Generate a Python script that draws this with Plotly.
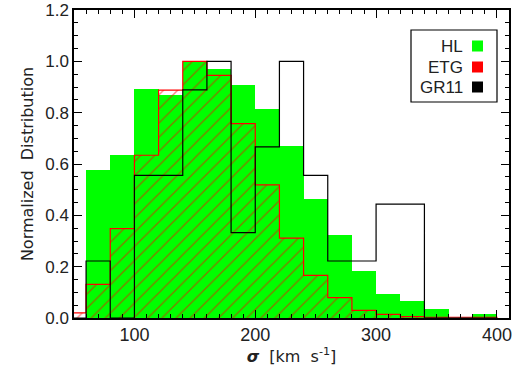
import plotly.graph_objects as go

# Bin left edges (width 20, km/s)
bin_left = [40, 60, 80, 100, 120, 140, 160, 180, 200, 220, 240, 260, 280, 300, 320, 340, 360, 380]
bin_width = 20

hl_values = [0.0, 0.575, 0.637, 0.891, 0.867, 1.0, 0.969, 0.908, 0.813, 0.672, 0.462, 0.324, 0.185, 0.095, 0.068, 0.036, 0.0, 0.014]
etg_values = [0.02, 0.131, 0.348, 0.634, 0.888, 1.0, 0.945, 0.757, 0.519, 0.311, 0.166, 0.079, 0.030, 0.014, 0.005, 0.003, 0.003, 0.003]
gr11_values = [0.0, 0.222, 0.0, 0.556, 0.556, 0.889, 1.0, 0.333, 0.667, 1.0, 0.556, 0.222, 0.222, 0.444, 0.444, 0.0, 0.0, 0.0]

legend_labels = ["HL", "ETG", "GR11"]
legend_colors = ["#00FF00", "#FF0000", "#000000"]

x_ticks = [100, 200, 300, 400]
y_ticks = [0.0, 0.2, 0.4, 0.6, 0.8, 1.0, 1.2]

centers = [b + bin_width / 2 for b in bin_left]
edges = bin_left + [bin_left[-1] + bin_width]


def step_xy(vals):
    xs = [edges[0]] + edges + [edges[-1]]
    ys = [0.0] + list(vals) + [vals[-1], 0.0]
    return xs, ys


fig = go.Figure()

# HL: solid green histogram
fig.add_trace(go.Bar(x=centers, y=hl_values, width=bin_width,
                     marker=dict(color="#00FF00", line=dict(width=0)),
                     showlegend=False, hoverinfo="skip"))

# ETG: red hatched histogram
fig.add_trace(go.Bar(x=centers, y=etg_values, width=bin_width,
                     marker=dict(color="rgba(0,0,0,0)", line=dict(width=0),
                                 pattern=dict(shape="/", fgcolor="#FF0000",
                                              bgcolor="rgba(0,0,0,0)", size=10,
                                              solidity=0.14, fillmode="overlay")),
                     showlegend=False, hoverinfo="skip"))

# ETG outline
ex, ey = step_xy(etg_values)
fig.add_trace(go.Scatter(x=ex, y=ey, mode="lines", line=dict(color="#FF0000", width=1.2, shape="hv"),
                         showlegend=False, hoverinfo="skip"))

# GR11 outline
gx, gy = step_xy(gr11_values)
fig.add_trace(go.Scatter(x=gx, y=gy, mode="lines", line=dict(color="#000000", width=1.2, shape="hv"),
                         showlegend=False, hoverinfo="skip"))

tick_font = dict(family="Liberation Sans", size=18, color="#222")
title_font = dict(family="DejaVu Sans", size=16, color="#222")

fig.update_layout(
    width=515, height=373,
    margin=dict(l=74, r=6, t=10, b=55),
    paper_bgcolor="white", plot_bgcolor="white",
    barmode="overlay", bargap=0,
    font=dict(family="Liberation Sans", size=17, color="#222"),
    showlegend=False,
)

fig.update_xaxes(
    range=[50, 410], tickvals=x_ticks, ticks="inside", ticklen=8, tickwidth=1.2,
    tickcolor="black", showline=True, linecolor="black", linewidth=1.5, mirror="ticks",
    showgrid=False, zeroline=False, automargin=False, tickfont=tick_font,
    minor=dict(dtick=10, tick0=0, ticks="inside", ticklen=4, tickcolor="black", showgrid=False),
    title=dict(text="<i><b>σ</b></i>  [km  s<sup>-1</sup>]", standoff=4, font=title_font),
)
fig.update_yaxes(
    range=[0, 1.2], tickvals=y_ticks, tickformat=".1f", ticks="inside", ticklen=8, tickwidth=1.2,
    tickcolor="black", showline=True, linecolor="black", linewidth=1.5, mirror="ticks",
    showgrid=False, zeroline=False, automargin=False, tickfont=dict(family="Liberation Sans", size=17, color="#222"),
    minor=dict(dtick=0.05, tick0=0, ticks="inside", ticklen=4, tickcolor="black", showgrid=False),
    title=dict(text="Normalized  Distribution", standoff=8, font=title_font),
)

# Manual legend box (top-right)
fig.add_shape(type="rect", xref="paper", yref="paper",
              x0=(411 - 74) / 435, x1=(497 - 74) / 435,
              y0=(318 - 102) / 308, y1=(318 - 30) / 308,
              line=dict(color="black", width=1.2), fillcolor="white", layer="above")
legend_y = [46, 67, 87]
for lab, col, py in zip(legend_labels, legend_colors, legend_y):
    fig.add_annotation(xref="paper", yref="paper", x=(465 - 74) / 435, y=(318 - py) / 308,
                       text=lab, showarrow=False, xanchor="right", yanchor="middle",
                       font=dict(size=17, color="#222", family="Liberation Sans"))
    fig.add_shape(type="rect", xref="paper", yref="paper",
                  x0=(472 - 74) / 435, x1=(483 - 74) / 435,
                  y0=(318 - py - 5.5) / 308, y1=(318 - py + 5.5) / 308,
                  line=dict(width=0), fillcolor=col, layer="above")

fig.write_html("out.html", config={"displayModeBar": False},
               post_script="document.body.style.margin='0';")
